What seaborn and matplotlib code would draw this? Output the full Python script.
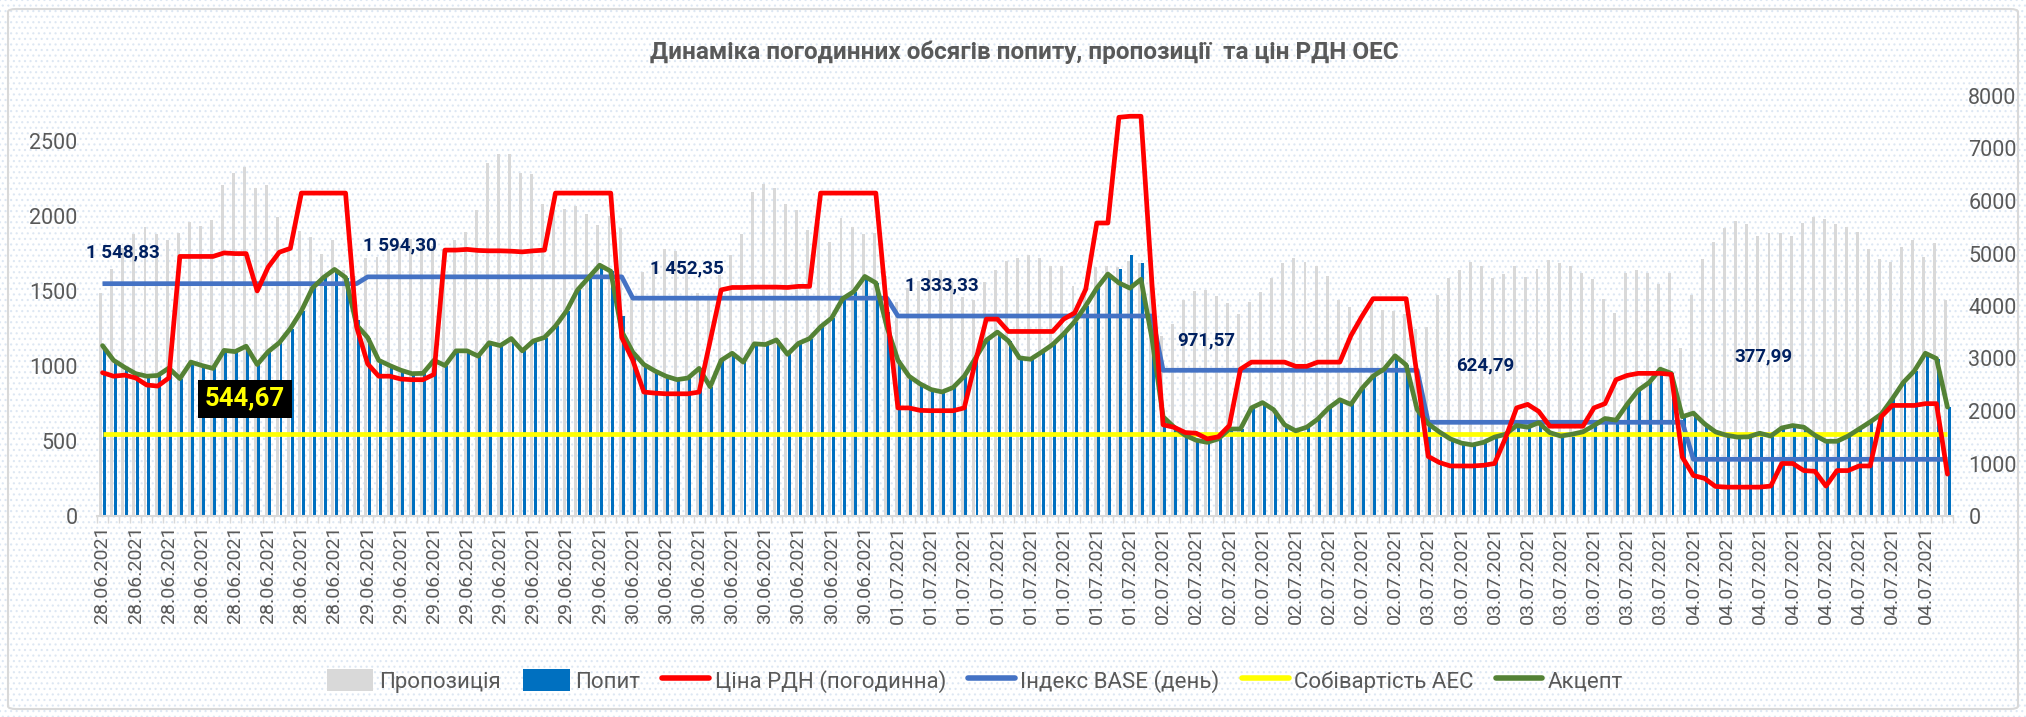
import numpy as np
import pandas as pd
import matplotlib
matplotlib.use("Agg")
import matplotlib.pyplot as plt
import seaborn as sns
from matplotlib.patches import Patch, Rectangle, FancyBboxPatch
from matplotlib.lines import Line2D

# ---- data (hourly, 7 days x 24 h) ----
days = ["28.06.2021", "29.06.2021", "30.06.2021", "01.07.2021",
        "02.07.2021", "03.07.2021", "04.07.2021"]

supply = [
    1484, 1644, 1790, 1883, 1928, 1883, 1841, 1888, 1960, 1935, 1975, 2205, 2287, 2324, 2188, 2205, 1996, 1770, 1900, 1860, 1750, 1840, 1640, 1600,
    1720, 1730, 1780, 1800, 1850, 1850, 1800, 1780, 1840, 1895, 2043, 2353, 2416, 2411, 2287, 2282, 2083, 2080, 2047, 2064, 2012, 1942, 2000, 1920,
    1450, 1625, 1684, 1777, 1770, 1650, 1490, 1450, 1610, 1738, 1883, 2158, 2212, 2188, 2078, 2040, 1907, 1960, 1829, 1989, 1925, 1878, 1888, 1600,
    1425, 1519, 1566, 1637, 1637, 1566, 1460, 1437, 1561, 1641, 1702, 1719, 1738, 1719, 1667, 1667, 1531, 1477, 1660, 1665, 1660, 1700, 1690, 1600,
    1200, 1277, 1437, 1500, 1507, 1465, 1420, 1350, 1425, 1496, 1590, 1688, 1719, 1695, 1667, 1601, 1442, 1395, 1296, 1430, 1371, 1366, 1350, 1250,
    1261, 1472, 1585, 1637, 1691, 1665, 1590, 1613, 1665, 1594, 1648, 1707, 1688, 1665, 1620, 1578, 1449, 1355, 1618, 1637, 1620, 1547, 1618, 1120,
    1472, 1714, 1829, 1918, 1970, 1946, 1867, 1890, 1888, 1864, 1954, 1996, 1982, 1949, 1925, 1895, 1782, 1714, 1691, 1794, 1841, 1730, 1817, 1437,
]

demand = [
    1136, 1038, 991, 949, 932, 937, 986, 916, 1026, 1003, 984, 1104, 1096, 1132, 1010, 1096, 1155, 1249, 1367, 1519, 1590, 1644, 1590, 1308,
    1190, 1038, 1003, 972, 949, 951, 1038, 1003, 1101, 1101, 1066, 1155, 1136, 1183, 1101, 1167, 1190, 1266, 1367, 1507, 1590, 1672, 1632, 1331,
    1092, 1010, 967, 932, 909, 920, 984, 862, 1038, 1085, 1026, 1148, 1143, 1174, 1078, 1151, 1183, 1261, 1320, 1449, 1496, 1597, 1554, 1359,
    1040, 932, 881, 843, 827, 857, 932, 1050, 1172, 1226, 1167, 1054, 1045, 1092, 1143, 1214, 1296, 1402, 1519, 1613, 1648, 1738, 1690, 1343,
    662, 592, 538, 505, 491, 514, 580, 580, 721, 756, 709, 608, 568, 592, 646, 721, 775, 744, 850, 932, 979, 1068, 1007, 721,
    615, 561, 514, 486, 474, 491, 526, 545, 603, 592, 622, 556, 533, 545, 561, 603, 650, 639, 744, 838, 890, 979, 951, 674,
    686, 615, 561, 538, 526, 528, 552, 533, 587, 603, 592, 538, 498, 498, 533, 580, 627, 679, 780, 890, 967, 1085, 1050, 726,
]

accept = [
    1136, 1038, 991, 949, 932, 937, 986, 916, 1026, 1003, 984, 1104, 1096, 1132, 1010, 1096, 1155, 1249, 1367, 1519, 1590, 1644, 1590, 1273,
    1190, 1038, 1003, 972, 949, 951, 1038, 1003, 1101, 1101, 1066, 1155, 1136, 1183, 1101, 1167, 1190, 1266, 1367, 1507, 1590, 1672, 1632, 1230,
    1092, 1010, 967, 932, 909, 920, 984, 862, 1038, 1085, 1026, 1148, 1143, 1174, 1078, 1151, 1183, 1261, 1320, 1449, 1496, 1597, 1554, 1261,
    1038, 932, 881, 843, 827, 857, 932, 1050, 1172, 1226, 1167, 1054, 1045, 1092, 1143, 1214, 1296, 1402, 1519, 1613, 1554, 1519, 1578, 1180,
    662, 592, 538, 505, 491, 514, 580, 580, 721, 756, 709, 608, 568, 592, 646, 721, 775, 744, 850, 932, 979, 1068, 1007, 709,
    615, 561, 514, 486, 474, 491, 526, 545, 603, 592, 622, 556, 533, 545, 561, 603, 650, 639, 744, 838, 890, 979, 951, 662,
    686, 615, 561, 538, 526, 528, 552, 533, 587, 603, 592, 538, 498, 498, 533, 580, 627, 679, 780, 890, 967, 1085, 1050, 726,
]

price = [
    2730, 2663, 2683, 2630, 2495, 2475, 2630, 4944, 4944, 4944, 4944, 5011, 4998, 4998, 4286, 4743, 5024, 5098, 6151, 6151, 6151, 6151, 6151, 3602,
    2898, 2663, 2663, 2609, 2596, 2596, 2697, 5065, 5065, 5078, 5058, 5051, 5051, 5044, 5031, 5051, 5065, 6151, 6151, 6151, 6151, 6151, 6151, 3400,
    2965, 2361, 2341, 2328, 2328, 2328, 2361, 3334, 4307, 4353, 4353, 4360, 4360, 4360, 4353, 4374, 4374, 6151, 6151, 6151, 6151, 6151, 6151, 3900,
    2059, 2059, 2012, 2006, 2006, 2006, 2059, 2931, 3750, 3750, 3515, 3515, 3515, 3515, 3515, 3750, 3870, 4320, 5581, 5581, 7594, 7614, 7614, 4400,
    1737, 1690, 1590, 1576, 1469, 1509, 1724, 2797, 2931, 2931, 2931, 2931, 2851, 2851, 2931, 2931, 2931, 3434, 3803, 4139, 4139, 4139, 4139, 2663,
    1134, 1020, 953, 953, 953, 966, 1000, 1489, 2059, 2126, 1992, 1711, 1711, 1711, 1711, 2059, 2140, 2596, 2677, 2717, 2717, 2717, 2697, 1120,
    771, 718, 563, 550, 550, 550, 550, 570, 1000, 1000, 865, 852, 570, 865, 865, 953, 953, 1892, 2106, 2106, 2106, 2140, 2140, 798,
]

base_index = [1548.83, 1594.30, 1452.35, 1333.33, 971.57, 624.79, 377.99]
base_labels = ["1 548,83", "1 594,30", "1 452,35", "1 333,33", "971,57", "624,79", "377,99"]
npp_cost = 544.67
npp_label = "544,67"

# label placement (data coords)
base_label_x = [-1.5, 23.6, 49.6, 72.6, 97.3, 122.5, 147.7]
base_label_y = [1754, 1806, 1648, 1538, 1172, 1003, 1061]

title = "Динаміка погодинних обсягів попиту, пропозиції  та цін РДН ОЕС"

hours = np.arange(len(supply))
hour_dates = np.repeat(days, 24)
base_hourly = np.repeat(base_index, 24)

bars = pd.DataFrame({
    "hour": np.concatenate([hours, hours]),
    "value": supply + demand,
    "series": ["Пропозиція"] * len(supply) + ["Попит"] * len(demand),
})

sns.set_theme(style="white")
plt.rcParams["font.family"] = ["Roboto", "DejaVu Sans"]
plt.rcParams["hatch.linewidth"] = 0.8

GREY_TXT = "#595959"
W, H = 2026, 717
fig = plt.figure(figsize=(W / 100, H / 100), dpi=100)

# dotted chart background + border
bg = Rectangle((0, 0), 1, 1, transform=fig.transFigure, facecolor="white",
               edgecolor="#DDE7F3", hatch="...", lw=0, zorder=-10)
fig.add_artist(bg)
border = FancyBboxPatch((8 / W, 8 / H), 2010 / W, 700 / H, transform=fig.transFigure,
                        boxstyle="round,pad=0,rounding_size=0.004", fill=False,
                        edgecolor="#D9D9D9", lw=1.5, zorder=-9)
fig.add_artist(border)

ax = fig.add_axes([97 / W, (H - 516) / H, (1953 - 97) / W, (516 - 96) / H])
ax.patch.set_alpha(0)

sns.barplot(data=bars, x="hour", y="value", hue="series",
            hue_order=["Пропозиція", "Попит"], palette=["#D9D9D9", "#0070C0"],
            width=0.62, gap=0.15, saturation=1, errorbar=None, legend=False,
            linewidth=0, antialiased=False, ax=ax)

ax.plot(hours, base_hourly, color="#4472C4", lw=3.4, zorder=3, solid_capstyle="butt")
ax.hlines(npp_cost, hours[0], hours[-1], color="#FFFF00", lw=3.4, zorder=3)
sns.lineplot(x=hours, y=accept, color="#548235", lw=3.4, ax=ax, zorder=4)

ax2 = ax.twinx()
ax2.patch.set_alpha(0)
sns.lineplot(x=hours, y=price, color="#FF0000", lw=3.4, ax=ax2, zorder=4)

ax.set_xlim(-0.5, len(hours) - 0.5)
ax.set_ylim(0, 2800)
ax.set_yticks(range(0, 2501, 500))
ax2.set_ylim(0, 8000)
ax2.set_yticks(range(0, 8001, 1000))

ax.set_xticks(hours[::3])
ax.set_xticklabels(hour_dates[::3], rotation=90, fontsize=14, color=GREY_TXT)
ax.set_xticks(np.arange(-0.5, len(hours), 1), minor=True)
ax.tick_params(axis="x", which="major", length=0, pad=7)
ax.tick_params(axis="x", which="minor", length=5, color="#D9D9D9", width=1, bottom=True)
ax.tick_params(axis="y", length=0, pad=14, labelsize=15.5, labelcolor=GREY_TXT)
ax2.tick_params(axis="y", length=0, pad=11, labelsize=15.5, labelcolor=GREY_TXT)
ax.set_xlabel("")
ax.set_ylabel("")
ax2.set_ylabel("")

for a in (ax, ax2):
    for s in a.spines.values():
        s.set_visible(False)
ax.spines["bottom"].set_visible(True)
ax.spines["bottom"].set_color("#D9D9D9")
ax.spines["bottom"].set_linewidth(1.5)

for x, y, t in zip(base_label_x, base_label_y, base_labels):
    ax.text(x, y, t, ha="left", va="center", fontsize=13.5, fontweight="bold",
            color="#002060", zorder=6)

ax.text(12.9, 782, npp_label, ha="center", va="center", fontsize=18.5,
        fontweight="bold", color="#FFFF00", zorder=7,
        bbox=dict(boxstyle="square,pad=0.28", facecolor="black", edgecolor="none"))

fig.text(1024 / W, 1 - 52 / H, title, ha="center", va="center",
         fontsize=17.5, fontweight="bold", color=GREY_TXT)

handles = [
    Patch(facecolor="#D9D9D9", edgecolor="none"),
    Patch(facecolor="#0070C0", edgecolor="none"),
    Line2D([], [], color="#FF0000", lw=4),
    Line2D([], [], color="#4472C4", lw=4),
    Line2D([], [], color="#FFFF00", lw=4),
    Line2D([], [], color="#548235", lw=4),
]
labels = ["Пропозиція", "Попит", "Ціна РДН (погодинна)", "Індекс BASE (день)",
          "Собівартість АЕС", "Акцепт"]
fig.legend(handles, labels, loc="center", bbox_to_anchor=(975 / W, 1 - 681 / H),
           ncol=6, frameon=False, fontsize=16, handlelength=2.1, handleheight=1.1,
           handletextpad=0.25, columnspacing=1.0, labelcolor=GREY_TXT)

fig.savefig("out.png", dpi=100)
